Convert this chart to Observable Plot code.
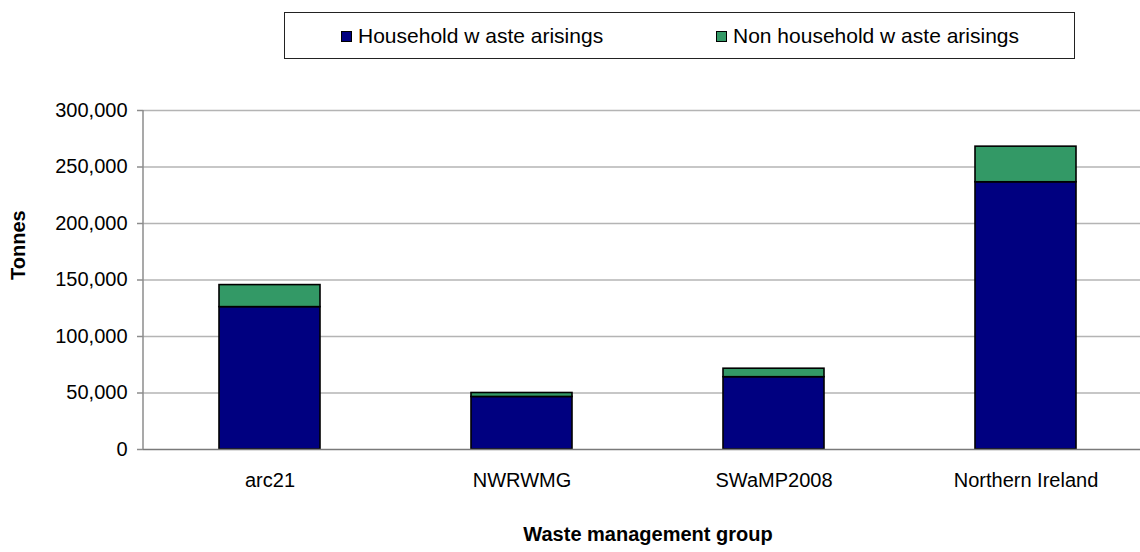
<!DOCTYPE html>
<html>
<head>
<meta charset="utf-8">
<script src="https://cdn.jsdelivr.net/npm/d3@7"></script>
<script src="https://cdn.jsdelivr.net/npm/@observablehq/plot@0.6"></script>
<style>
  html, body { margin: 0; padding: 0; background: #fff; }
  #wrap { position: relative; width: 1140px; height: 552px; overflow: hidden; font-family: "Liberation Sans", Arial, sans-serif; }
  #wrap svg { max-width: none; }
  #legend { position: absolute; left: 284px; top: 12px; width: 791px; height: 47px; border: 1px solid #222; box-sizing: border-box; background: #fff; font-size: 21px; color: #000; }
  .item { position: absolute; top: 0; height: 46px; display: flex; align-items: center; white-space: pre; }
  .sw { width: 9px; height: 9px; border: 1px solid #000; margin-right: 6px; }
</style>
</head>
<body>
<div id="wrap">
  <div id="chart"></div>
  <div id="legend"></div>
</div>
<script>
const groups = ["arc21", "NWRWMG", "SWaMP2008", "Northern Ireland"];
const household = [126000, 46500, 64000, 236500];
const nonHousehold = [19500, 3500, 7500, 31500];
const seriesNames = ["Household w aste arisings", "Non household w aste arisings"];
const seriesColors = ["#000080", "#339966"];
const yTicks = [0, 50000, 100000, 150000, 200000, 250000, 300000];
const xTitle = "Waste management group";
const yTitle = "Tonnes";

const rows = [];
groups.forEach((g, i) => {
  rows.push({group: g, series: seriesNames[0], value: household[i]});
  rows.push({group: g, series: seriesNames[1], value: nonHousehold[i]});
});

const font = "Liberation Sans, Arial, sans-serif";

const leftAxisLine = (index, scales, values, dim) => {
  const l = document.createElementNS("http://www.w3.org/2000/svg", "line");
  l.setAttribute("x1", dim.marginLeft);
  l.setAttribute("x2", dim.marginLeft);
  l.setAttribute("y1", dim.marginTop);
  l.setAttribute("y2", dim.height - dim.marginBottom);
  l.setAttribute("stroke", "#8c8c8c");
  l.setAttribute("stroke-width", "1.5");
  return l;
};

const chart = Plot.plot({
  width: 1152,
  height: 552,
  marginLeft: 143,
  marginRight: 0,
  marginTop: 110,
  marginBottom: 103,
  style: {fontFamily: font, fontSize: "20px", color: "#000", background: "transparent"},
  x: {domain: groups, paddingInner: 0.6, paddingOuter: 0.3, label: null},
  y: {domain: [0, 300000], label: null},
  color: {domain: seriesNames, range: seriesColors},
  marks: [
    Plot.ruleY(yTicks.slice(1), {stroke: "#b4b4b4", strokeWidth: 1.5}),
    Plot.barY(rows, Plot.stackY({x: "group", y: "value", fill: "series", stroke: "#000", strokeWidth: 1.6})),
    Plot.ruleY([0], {stroke: "#7a7a7a", strokeWidth: 1.5}),
    leftAxisLine,
    Plot.axisY({ticks: yTicks, tickFormat: d3.format(","), tickSize: 6, tickPadding: 10, stroke: "#8c8c8c", strokeWidth: 1.5, strokeOpacity: 1, fontSize: 20, label: null, fill: "#000"}),
    Plot.axisX({tickSize: 0, tickPadding: 23, fontSize: 20, label: null, fill: "#000"}),
    Plot.text([yTitle], {frameAnchor: "left", dx: -125, rotate: -90, fontWeight: "bold", fontSize: 20, fill: "#000", text: d => d}),
    Plot.text([xTitle], {frameAnchor: "bottom", dy: 91, fontWeight: "bold", fontSize: 20, fill: "#000", text: d => d})
  ]
});
document.getElementById("chart").appendChild(chart);

const legend = document.getElementById("legend");
const legendX = [56, 431];
seriesNames.forEach((s, i) => {
  const it = document.createElement("div");
  it.className = "item";
  it.style.left = legendX[i] + "px";
  const sw = document.createElement("div");
  sw.className = "sw";
  sw.style.background = seriesColors[i];
  const tx = document.createElement("span");
  tx.textContent = s;
  it.appendChild(sw);
  it.appendChild(tx);
  legend.appendChild(it);
});
</script>
</body>
</html>
